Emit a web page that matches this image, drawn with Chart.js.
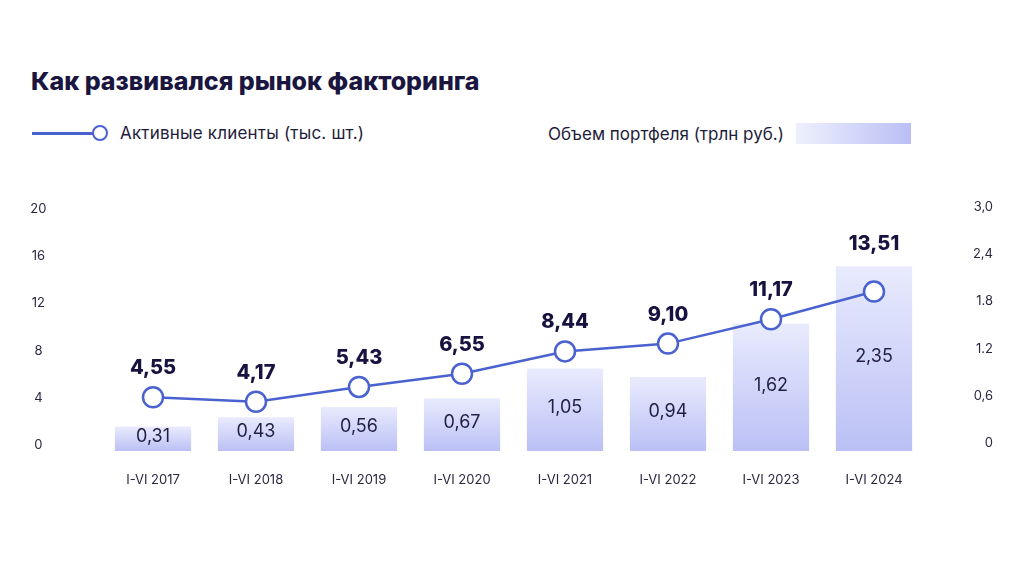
<!DOCTYPE html>
<html lang="ru">
<head>
  <meta charset="UTF-8">
  <title>Как развивался рынок факторинга</title>
  <style>
  body {
    margin: 0;
    width: 1024px;
    height: 576px;
    background: #fff;
    font-family: Inter, "Noto Sans", sans-serif;
    color: #1a1640;
    position: relative;
    overflow: hidden;
  }
  .title {
    position: absolute;
    left: 31px;
    top: 66px;
    font-size: 25px;
    font-weight: 800;
    letter-spacing: 0;
  }
  .legend-item {
    position: absolute;
    top: 123px;
    font-size: 17px;
    display: flex;
    align-items: center;
    color: #1e1c3a;
  }
  .swatch-line {
    position: relative;
    width: 76px;
    height: 20px;
    margin-right: 12px;
  }
  .swatch-line::before {
    content: "";
    position: absolute;
    left: 0; top: 9px;
    width: 62px; height: 2.5px;
    background: #4a62cf;
  }
  .swatch-line::after {
    content: "";
    position: absolute;
    left: 60px; top: 2px;
    width: 12px; height: 12px;
    border: 2.5px solid #4a62cf;
    border-radius: 50%;
    background: #fff;
  }
  .swatch-bar {
    width: 115px;
    height: 21px;
    margin-left: 12px;
    background: linear-gradient(to right, #eef0fd, #b9bff5);
  }
  #chart {
    position: absolute;
    left: 0; top: 0;
  }
  </style>
  <script src="https://cdn.jsdelivr.net/npm/chart.js"></script>
</head>
<body>
  <div class="title">Как развивался рынок факторинга</div>
  <div class="legend-item" style="left:32px; letter-spacing:0.2px;"><span class="swatch-line"></span>Активные клиенты (тыс. шт.)</div>
  <div class="legend-item" style="left:548px;">Объем портфеля (трлн руб.)<span class="swatch-bar"></span></div>
  <canvas id="chart" width="1024" height="576"></canvas>

  <script>
    const periods = ['I-VI 2017', 'I-VI 2018', 'I-VI 2019', 'I-VI 2020', 'I-VI 2021', 'I-VI 2022', 'I-VI 2023', 'I-VI 2024'];
    const clients = [4.55, 4.17, 5.43, 6.55, 8.44, 9.10, 11.17, 13.51];   // тыс. шт.
    const portfolio = [0.31, 0.43, 0.56, 0.67, 1.05, 0.94, 1.62, 2.35]; // трлн руб.
    const leftTicks = ['0', '4', '8', '12', '16', '20'];
    const rightTicks = ['0', '0,6', '1.2', '1.8', '2,4', '3,0'];

    const fmt = v => v.toFixed(2).replace('.', ',');
    const FONT = 'Inter, "Noto Sans", sans-serif';

    // value labels: bold above the line point, plain inside the bar
    const valueLabels = {
      id: 'valueLabels',
      afterDatasetsDraw(chart) {
        const ctx = chart.ctx;
        const bars = chart.getDatasetMeta(1).data;
        const pts = chart.getDatasetMeta(0).data;
        ctx.save();
        ctx.textAlign = 'center';
        ctx.textBaseline = 'middle';
        bars.forEach((bar, i) => {
          ctx.font = '18px ' + FONT;
          ctx.fillStyle = '#221f45';
          ctx.fillText(fmt(portfolio[i]), bar.x, (bar.y + bar.base) / 2 - 2);
        });
        pts.forEach((pt, i) => {
          const y = Math.min(pt.y - 29, bars[i].y - 22);
          ctx.font = '800 20px ' + FONT;
          ctx.fillStyle = '#17123f';
          ctx.fillText(fmt(clients[i]), pt.x, y);
        });
        ctx.restore();
      }
    };

    // each bar: light at its top, deeper lavender at its base
    function barGradient(context) {
      const chart = context.chart;
      if (!chart.chartArea || context.type !== 'data') return '#cdd1f8';
      const sc = chart.scales.y1;
      const top = sc.getPixelForValue(portfolio[context.dataIndex]);
      const base = sc.getPixelForValue(0);
      const g = chart.ctx.createLinearGradient(0, top, 0, base);
      g.addColorStop(0, '#e9ebfd');
      g.addColorStop(1, '#bac0f5');
      return g;
    }

    new Chart(document.getElementById('chart'), {
      data: {
        labels: periods,
        datasets: [
          {
            type: 'line',
            label: 'Активные клиенты (тыс. шт.)',
            data: clients,
            yAxisID: 'y',
            borderColor: '#4a62cf',
            borderWidth: 2.5,
            pointRadius: 10,
            pointBorderWidth: 2.5,
            pointBackgroundColor: '#ffffff',
            pointBorderColor: '#4a62cf',
            tension: 0,
            order: 0
          },
          {
            type: 'bar',
            label: 'Объем портфеля (трлн руб.)',
            data: portfolio,
            yAxisID: 'y1',
            backgroundColor: barGradient,
            categoryPercentage: 0.74,
            barPercentage: 1,
            order: 1
          }
        ]
      },
      options: {
        responsive: false,
        animation: false,
        layout: { padding: { top: 215, left: 0, right: 31, bottom: 0 } },
        plugins: {
          legend: { display: false },
          tooltip: { enabled: false }
        },
        scales: {
          x: {
            grid: { display: false, drawTicks: false },
            border: { display: false },
            ticks: { color: '#2a2840', font: { family: FONT, size: 13 }, padding: 21 },
            afterFit: s => { s.height = 125; }
          },
          y: {
            position: 'left',
            min: 0, max: 20,
            grid: { display: false, drawTicks: false },
            border: { display: false },
            ticks: {
              stepSize: 4,
              padding: 55,
              crossAlign: 'center',
              labelOffset: -6,
              color: '#2a2840',
              font: { family: FONT, size: 13 },
              callback: (v, i) => leftTicks[i]
            },
            afterFit: s => { s.width = 101.5; }
          },
          y1: {
            position: 'right',
            min: 0, max: 3,
            grid: { display: false, drawTicks: false },
            border: { display: false },
            ticks: {
              stepSize: 0.6,
              crossAlign: 'far',
              labelOffset: -8,
              color: '#2a2840',
              font: { family: FONT, size: 13 },
              callback: (v, i) => rightTicks[i]
            },
            afterFit: s => { s.width = 67.5; }
          }
        }
      },
      plugins: [valueLabels]
    });
  </script>
</body>
</html>
